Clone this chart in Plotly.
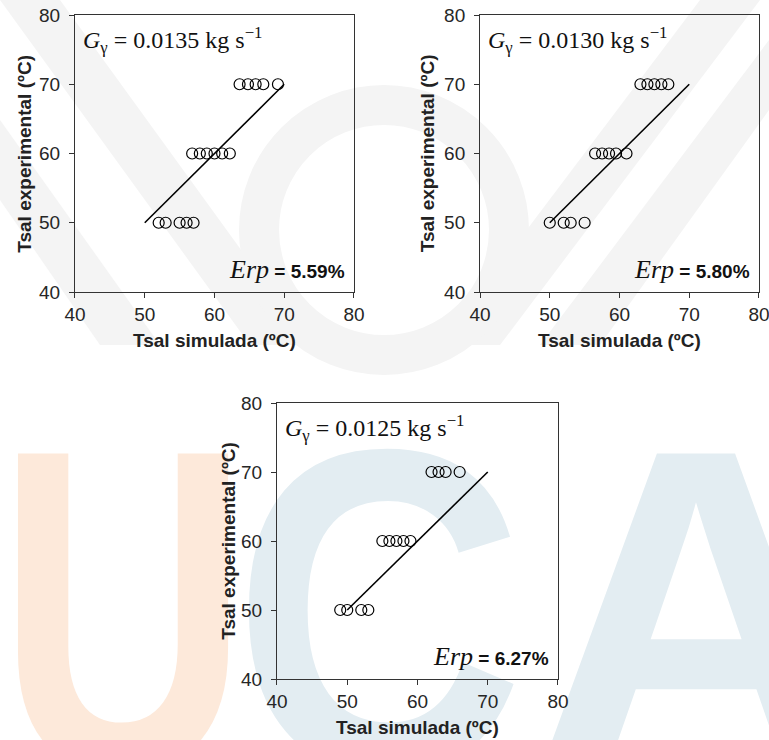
import base64
import plotly.graph_objects as go

# Simulated vs experimental outlet temperature for three flow rates
ticks = [40, 50, 60, 70, 80]

flow_labels = ["0.0135", "0.0130", "0.0125"]
erp_labels = ["5.59%", "5.80%", "6.27%"]

sim_a = [52, 53, 55, 56, 57, 56.8, 57.9, 58.9, 60, 61.1, 62.2, 63.6, 64.8, 65.9, 67.0, 69.1]
exp_a = [50, 50, 50, 50, 50, 60, 60, 60, 60, 60, 60, 70, 70, 70, 70, 70]

sim_b = [50, 52, 53, 55, 56.5, 57.5, 58.5, 59.5, 61, 63, 64, 65, 66, 67]
exp_b = [50, 50, 50, 50, 60, 60, 60, 60, 60, 70, 70, 70, 70, 70]

sim_c = [49, 50, 52, 53, 55, 56, 57, 58, 59, 62, 63, 64, 66]
exp_c = [50, 50, 50, 50, 60, 60, 60, 60, 60, 70, 70, 70, 70]

line_x = [50, 70]
line_y = [50, 70]

panels = [(sim_a, exp_a), (sim_b, exp_b), (sim_c, exp_c)]
domains = [
    ([0.0975, 0.4603], [0.6054, 0.9797]),
    ([0.6242, 0.9870], [0.6054, 0.9797]),
    ([0.3602, 0.7256], [0.0824, 0.4554]),
]
ytitle_offset = [0.066, 0.068, 0.064]

# faint institutional watermark, drawn beneath the plot areas
wm_svg = """<svg xmlns='http://www.w3.org/2000/svg' width='769' height='740' viewBox='0 0 769 740'>
<g fill='#f4f4f4'>
<polygon points='0,0 60,0 310,345 250,345'/>
<polygon points='0,120 0,200 100,345 160,345'/>
<polygon points='769,40 769,110 600,345 540,345'/>
<polygon points='700,0 760,0 500,345 440,345'/>
</g>
<circle cx='384' cy='230' r='125' fill='none' stroke='#f4f4f4' stroke-width='40'/>
<text x='-4' y='770' transform='scale(0.76,1)' font-family='Liberation Sans, Arial' font-weight='bold'
 font-size='460' fill='#fde9da'>U</text>
<text x='264' y='770' transform='scale(0.88,1)' font-family='Liberation Sans, Arial' font-weight='bold'
 font-size='460' fill='#e3edf2'>C</text>
<text x='530' y='770' font-family='Liberation Sans, Arial' font-weight='bold'
 font-size='460' fill='#e3edf2'>A</text>
</svg>"""
wm_src = "data:image/svg+xml;base64," + base64.b64encode(wm_svg.encode("utf-8")).decode("ascii")

fig = go.Figure()
layout = dict(
    template="none",
    width=769, height=740,
    margin=dict(l=0, r=0, t=0, b=0, autoexpand=False),
    paper_bgcolor="white",
    plot_bgcolor="rgba(0,0,0,0)",
    showlegend=False,
    images=[dict(source=wm_src, xref="paper", yref="paper", x=0, y=1,
                 sizex=1, sizey=1, sizing="stretch", xanchor="left", yanchor="top",
                 layer="below")],
)

axis_common = dict(
    range=[40, 80], tickvals=ticks, ticks="outside", ticklen=5,
    tickcolor="#333", showline=True, linecolor="#333", linewidth=1,
    mirror=True, showgrid=False, zeroline=False, automargin=False,
    ticklabeloverflow="allow",
    tickfont=dict(family="Liberation Sans, Arial", size=19, color="#262626"),
)

annotations = []

for i, ((sx, sy), (dx, dy)) in enumerate(zip(panels, domains)):
    n = "" if i == 0 else str(i + 1)
    xa = "x" + n
    ya = "y" + n
    fig.add_trace(go.Scatter(
        x=line_x, y=line_y, mode="lines", xaxis=xa, yaxis=ya,
        line=dict(color="black", width=1.6), hoverinfo="skip"))
    fig.add_trace(go.Scatter(
        x=sx, y=sy, mode="markers", xaxis=xa, yaxis=ya,
        marker=dict(symbol="circle-open", size=11, color="black",
                    line=dict(color="black", width=1.2))))
    layout["xaxis" + n] = dict(axis_common, domain=dx, anchor=ya)
    layout["yaxis" + n] = dict(axis_common, domain=dy, anchor=xa, ticklabelstandoff=5)

    annotations.append(dict(
        text="<i>G</i><sub>γ</sub> = " + flow_labels[i] + " kg s<sup>−1</sup>",
        x=40.9, y=76.4, xref=xa, yref=ya, xanchor="left", yanchor="middle",
        showarrow=False, font=dict(family="Liberation Serif, Times New Roman", size=24, color="#111")))
    annotations.append(dict(
        text="<span style='font-family:Liberation Serif;font-size:26px'><i>Erp</i></span>"
             "<b> = " + erp_labels[i] + "</b>",
        x=79.0, y=43.2, xref=xa, yref=ya, xanchor="right", yanchor="middle",
        showarrow=False, font=dict(family="Liberation Sans, Arial", size=19, color="#111")))

    cx = (dx[0] + dx[1]) / 2
    annotations.append(dict(
        text="<b>Tsal simulada (ºC)</b>", x=cx, y=dy[0] - 0.066, xref="paper", yref="paper",
        xanchor="center", yanchor="middle", showarrow=False,
        font=dict(family="Liberation Sans, Arial", size=19, color="#222")))
    annotations.append(dict(
        text="<b>Tsal experimental (ºC)</b>", x=dx[0] - ytitle_offset[i], y=(dy[0] + dy[1]) / 2,
        xref="paper", yref="paper", xanchor="center", yanchor="middle", textangle=-90,
        showarrow=False, font=dict(family="Liberation Sans, Arial", size=19, color="#222")))

layout["annotations"] = annotations
fig.update_layout(**layout)
fig.write_html("out.html")
